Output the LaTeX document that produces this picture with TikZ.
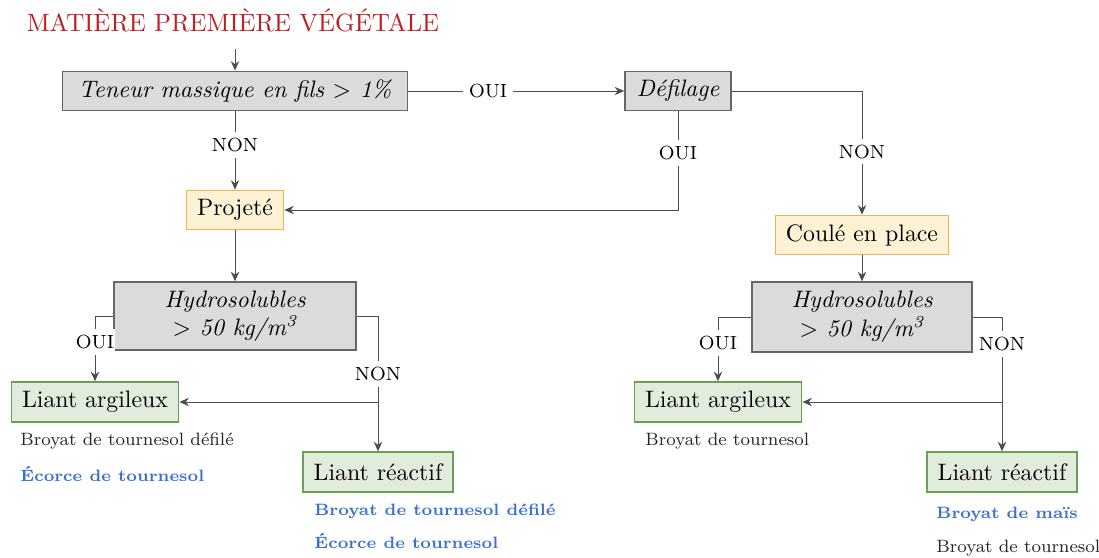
\documentclass[tikz,border=0pt]{standalone}
\usepackage{amsmath}
\usepackage{tikz}
\usetikzlibrary{arrows.meta, positioning, calc}

\definecolor{grisfond}{RGB}{219,219,219}
\definecolor{orangefond}{RGB}{253,242,213}
\definecolor{orangebord}{RGB}{236,182,72}
\definecolor{vertfond}{RGB}{226,236,220}
\definecolor{vertbord}{RGB}{104,160,84}
\definecolor{bleu}{RGB}{62,112,210}
\definecolor{rouge}{RGB}{190,32,36}

\begin{document}
\begin{tikzpicture}[
    x=0.42pt, y=-0.42pt,
    question/.style={rectangle, draw=black!60, fill=grisfond, semithick,
                minimum height=16.5pt, inner xsep=5pt, align=center, font=\itshape},
    procede/.style={rectangle, draw=orangebord, fill=orangefond, semithick,
                minimum height=16.5pt, inner xsep=4.5pt},
    liant/.style={rectangle, draw=vertbord, fill=vertfond, semithick,
                minimum height=16.8pt, inner xsep=4.5pt},
    arrow/.style={-{Stealth[length=4pt, width=3.5pt]}, draw=black!70},
    reponse/.style={fill=white, font=\footnotesize, inner sep=2.5pt},
    item/.style={anchor=west, font=\fontsize{7.5}{9}\selectfont, text=black!85, inner sep=0pt},
    itembleu/.style={item, font=\fontsize{6.9}{8}\bfseries, text=bleu},
]
\useasboundingbox (0,0) rectangle (1099,558);

% titre et premiers choix
\node[text=rouge, font=\fontsize{10.5}{12}\selectfont, inner xsep=0pt, inner ysep=7pt] (titre) at (233,20)
    {MATIÈRE PREMIÈRE VÉGÉTALE};
\node[question, minimum width=145pt] (teneur) at (235,91) {Teneur massique en fils $>$ 1\%};
\node[question, minimum width=44.5pt] (defilage) at (678,91) {Défilage};
\node[procede] (projete) at (235,210) {Projeté};
\node[procede] (coule) at (862,235) {Coulé en place};

% hydrosolubles
\node[question, minimum width=101.6pt, minimum height=28.6pt] (hydroA) at (235,316)
    {Hydrosolubles\\$>$ 50 kg/m\textsuperscript{3}};
\node[question, minimum width=92.4pt, minimum height=29.4pt] (hydroB) at (862,317)
    {Hydrosolubles\\$>$ 50 kg/m\textsuperscript{3}};

% liants
\node[liant] (argA) at (95,402) {Liant argileux};
\node[liant] (reacA) at (378,472) {Liant réactif};
\node[liant] (argB) at (718,402) {Liant argileux};
\node[liant] (reacB) at (1002,472) {Liant réactif};

% fleches
\draw[arrow] (teneur.north |- titre.south) -- (teneur.north);
\draw[arrow] (teneur) -- node[reponse, pos=0.37] {OUI} (defilage);
\draw[arrow] (teneur) -- node[reponse, pos=0.43] {NON} (projete);
\draw[arrow] (defilage.south) |- node[reponse, pos=0.21] {OUI} (projete.east);
\draw[arrow] (defilage.east) -| node[reponse, pos=0.745] {NON} (coule.north);
\draw[arrow] (projete) -- (hydroA);
\draw[arrow] (coule) -- (hydroB);

\draw[arrow] (hydroA.west) -| node[reponse, pos=0.7, inner xsep=0.5pt] {OUI} (argA.north);
\draw[arrow] (hydroA.east) -| node[reponse, pos=0.715] {NON} (reacA.north);
\draw[arrow] (reacA.north |- argA.east) -- (argA.east);

\draw[arrow] (hydroB.west) -| node[reponse, pos=0.7] {OUI} (argB.north);
\draw[arrow] (hydroB.east) -| node[reponse, pos=0.6] {NON} (reacB.north);
\draw[arrow] (reacB.north |- argB.east) -- (argB.east);

% matieres
\node[item] (mA1) at (20,441) {Broyat de tournesol défilé};
\node[itembleu] (mA2) at (20,474) {Écorce de tournesol};
\node[itembleu] (mA3) at (314,511) {Broyat de tournesol défilé};
\node[itembleu] (mA4) at (314,541) {Écorce de tournesol};
\node[item] (mB1) at (645,441) {Broyat de tournesol};
\node[itembleu] (mB2) at (936,514) {Broyat de maïs};
\node[item] (mB3) at (936,548) {Broyat de tournesol};
\end{tikzpicture}
\end{document}
